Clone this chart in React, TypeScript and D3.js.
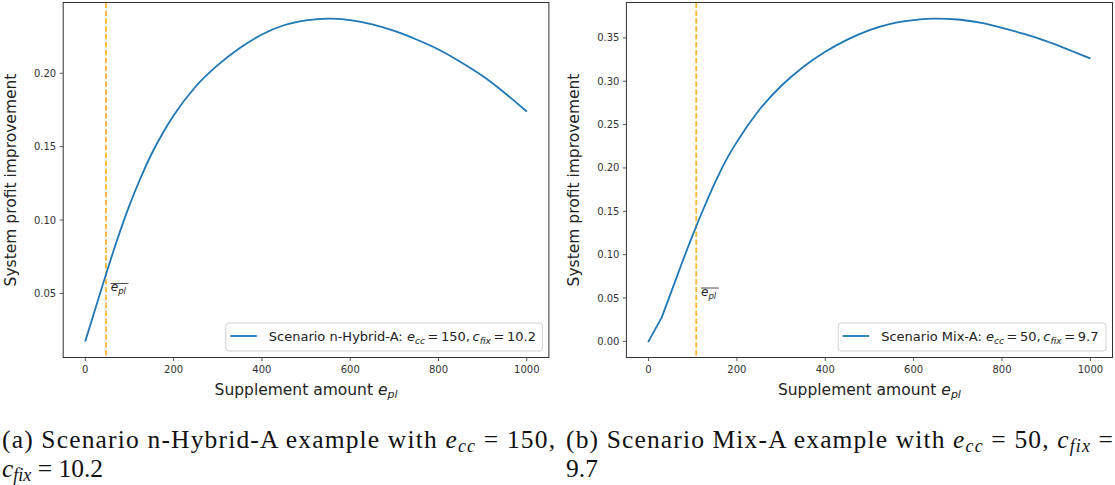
import React from 'react';
import * as d3 from 'd3';

// ---------- data ----------
const X_TICKS = [0, 200, 400, 600, 800, 1000];

const HYBRID_X = [0, 25, 50, 75, 100, 125, 150, 175, 200, 250, 300, 350, 400, 450, 500, 550, 600, 650, 700, 750, 800, 850, 900, 950, 1000];
const HYBRID_Y = [0.0174, 0.0418, 0.066, 0.089, 0.11, 0.1285, 0.145, 0.159, 0.1712, 0.191, 0.2055, 0.2172, 0.2264, 0.2327, 0.236, 0.2372, 0.2362, 0.2333, 0.2288, 0.223, 0.2162, 0.2077, 0.1981, 0.1866, 0.1739];
const HYBRID_Y_TICKS = [0.05, 0.1, 0.15, 0.2];
const HYBRID_THRESHOLD = [47];
const HYBRID_KINK = 0; // index of the last point drawn as a straight segment
const HYBRID_LABEL = { prefix: 'Scenario n-Hybrid-A: ', ecc: '150', cfix: '10.2' };

const MIX_X = [0, 30, 50, 75, 100, 125, 150, 175, 200, 250, 300, 350, 400, 450, 500, 550, 600, 650, 700, 750, 800, 850, 900, 950, 1000];
const MIX_Y = [0.0, 0.0276, 0.055, 0.0895, 0.1225, 0.1535, 0.1825, 0.2085, 0.23, 0.2665, 0.2945, 0.3165, 0.334, 0.348, 0.359, 0.3665, 0.3705, 0.3722, 0.3712, 0.3675, 0.3616, 0.3545, 0.3462, 0.3365, 0.3262];
const MIX_Y_TICKS = [0, 0.05, 0.1, 0.15, 0.2, 0.25, 0.3, 0.35];
const MIX_THRESHOLD = [108];
const MIX_KINK = 1;
const MIX_LABEL = { prefix: 'Scenario Mix-A: ', ecc: '50', cfix: '9.7' };

const X_LABEL = 'Supplement amount ';
const Y_LABEL = 'System profit improvement';

// ---------- styles ----------
const SANS = 'DejaVu Sans';
const SERIF = "'Liberation Serif', 'Times New Roman', serif";
const BLUE = '#1f77b4';
const ORANGE = '#ffa500';
const TOP = 2.5;
const BOTTOM = 357.5;
const THIN = '\u2009';

type PanelProps = {
  xs: number[];
  ys: number[];
  yTicks: number[];
  threshold: number[];
  kink: number;
  x0: number;
  x1: number;
  label: { prefix: string; ecc: string; cfix: string };
  legendW: number;
};

function Panel({ xs, ys, yTicks, threshold, kink, x0, x1, label, legendW }: PanelProps) {
  const [xmin, xmax] = d3.extent(xs) as [number, number];
  const xpad = (xmax - xmin) * 0.05;
  const x = d3.scaleLinear().domain([xmin - xpad, xmax + xpad]).range([x0, x1]);
  const [ymin, ymax] = d3.extent(ys) as [number, number];
  const ypad = (ymax - ymin) * 0.05;
  const y = d3.scaleLinear().domain([ymin - ypad, ymax + ypad]).range([BOTTOM, TOP]);
  const pts = xs.map((v, i) => [v, ys[i]] as [number, number]);
  const straight = d3
    .line<[number, number]>()
    .x((d) => x(d[0]))
    .y((d) => y(d[1]))
    .curve(d3.curveLinear);
  const smooth = d3
    .line<[number, number]>()
    .x((d) => x(d[0]))
    .y((d) => y(d[1]))
    .curve(d3.curveMonotoneX);
  const fmt = d3.format('.2f');
  const lh = 28;
  const bx = x1 - 6.5 - legendW;
  const by = BOTTOM - 6.5 - lh;
  const cx = (x0 + x1) / 2;
  const cy = (TOP + BOTTOM) / 2;
  const yLabelX = x0 - 47;

  return (
    <g>
      {threshold.map((t, i) => (
        <g key={i}>
          <line
            x1={x(t)}
            x2={x(t)}
            y1={TOP}
            y2={BOTTOM}
            stroke={ORANGE}
            strokeOpacity={0.8}
            strokeWidth={1.8}
            strokeDasharray="5.5,2.4"
          />
          <text
            x={x(t) + 4.8}
            y={y(0.05) - 2}
            fontFamily={SANS}
            fontSize={12}
            fill="#222"
            style={{ whiteSpace: 'pre' }}
          >
            <tspan fontStyle="italic">e</tspan>
            <tspan fontStyle="italic" fontSize={8.5} dy={3}>
              pl
            </tspan>
          </text>
          <line
            x1={x(t) + 4.8}
            x2={x(t) + 22.5}
            y1={y(0.05) - 10}
            y2={y(0.05) - 10}
            stroke="#222"
            strokeWidth={0.8}
          />
        </g>
      ))}
      {kink > 0 && (
        <path
          d={straight(pts.slice(0, kink + 1)) || ''}
          fill="none"
          stroke={BLUE}
          strokeWidth={1.8}
          strokeLinejoin="round"
          strokeLinecap="round"
        />
      )}
      <path
        d={smooth(pts.slice(kink)) || ''}
        fill="none"
        stroke={BLUE}
        strokeWidth={1.8}
        strokeLinejoin="round"
      />
      <rect x={x0} y={TOP} width={x1 - x0} height={BOTTOM - TOP} fill="none" stroke="#333" strokeWidth={1} />
      {X_TICKS.map((t) => (
        <g key={t}>
          <line x1={x(t)} x2={x(t)} y1={BOTTOM} y2={BOTTOM + 3.5} stroke="#333" strokeWidth={0.8} />
          <text x={x(t)} y={BOTTOM + 15} textAnchor="middle" fontFamily={SANS} fontSize={10} fill="#333">
            {t}
          </text>
        </g>
      ))}
      {yTicks.map((t) => (
        <g key={t}>
          <line x1={x0 - 3.5} x2={x0} y1={y(t)} y2={y(t)} stroke="#333" strokeWidth={0.8} />
          <text
            x={x0 - 7}
            y={y(t)}
            dy="0.35em"
            textAnchor="end"
            fontFamily={SANS}
            fontSize={10}
            fill="#333"
          >
            {fmt(t)}
          </text>
        </g>
      ))}
      <text x={cx} y={395} textAnchor="middle" fontFamily={SANS} fontSize={15.5} fill="#222" style={{ whiteSpace: 'pre' }}>
        <tspan>{X_LABEL}</tspan>
        <tspan fontStyle="italic">e</tspan>
        <tspan fontStyle="italic" fontSize={11} dy={3}>
          pl
        </tspan>
      </text>
      <text
        transform={`translate(${yLabelX},${cy}) rotate(-90)`}
        textAnchor="middle"
        fontFamily={SANS}
        fontSize={15.5}
        fill="#222"
      >
        {Y_LABEL}
      </text>
      <rect
        x={bx}
        y={by}
        width={legendW}
        height={lh}
        rx={3}
        fill="white"
        fillOpacity={0.8}
        stroke="#d0d0d0"
        strokeWidth={1}
      />
      <line x1={bx + 4.5} x2={bx + 31} y1={by + 13} y2={by + 13} stroke={BLUE} strokeWidth={1.8} />
      <text x={bx + 43} y={by + 18} fontFamily={SANS} fontSize={13} fill="#222" style={{ whiteSpace: 'pre' }}>
        <tspan>{label.prefix}</tspan>
        <tspan fontStyle="italic">e</tspan>
        <tspan fontStyle="italic" fontSize={9.1} dy={2.5}>
          cc
        </tspan>
        <tspan dy={-2.5}>{THIN + '=' + THIN + label.ecc + ',' + THIN}</tspan>
        <tspan fontStyle="italic">c</tspan>
        <tspan fontStyle="italic" fontSize={9.1} dy={2.5}>
          fix
        </tspan>
        <tspan dy={-2.5}>{THIN + '=' + THIN + label.cfix}</tspan>
      </text>
    </g>
  );
}

function Caption() {
  const fs = 25.5;
  const sub = 18;
  const y1 = 448;
  const y2 = 477;
  return (
    <g fontFamily={SERIF} fontSize={fs} fill="#111" style={{ whiteSpace: 'pre' }}>
      <text x={2} y={y1} textLength={553} lengthAdjust="spacing">
        <tspan>(a) Scenario n-Hybrid-A example with </tspan>
        <tspan fontStyle="italic">e</tspan>
        <tspan fontStyle="italic" fontSize={sub} dy={4}>
          cc
        </tspan>
        <tspan dy={-4}> = 150,</tspan>
      </text>
      <text x={2} y={y2}>
        <tspan fontStyle="italic">c</tspan>
        <tspan fontStyle="italic" fontSize={sub} dy={4}>
          fix
        </tspan>
        <tspan dy={-4}> = 10.2</tspan>
      </text>
      <text x={566} y={y1} textLength={547} lengthAdjust="spacing">
        <tspan>(b) Scenario Mix-A example with </tspan>
        <tspan fontStyle="italic">e</tspan>
        <tspan fontStyle="italic" fontSize={sub} dy={4}>
          cc
        </tspan>
        <tspan dy={-4}> = 50, </tspan>
        <tspan fontStyle="italic">c</tspan>
        <tspan fontStyle="italic" fontSize={sub} dy={4}>
          fix
        </tspan>
        <tspan dy={-4}> =</tspan>
      </text>
      <text x={566} y={y2}>
        9.7
      </text>
    </g>
  );
}

export default function App() {
  return (
    <svg
      width={1115}
      height={485}
      viewBox="0 0 1115 485"
      style={{ position: 'absolute', left: 0, top: 0, background: 'white' }}
    >
      <rect width={1115} height={485} fill="white" />
      <Panel
        xs={HYBRID_X}
        ys={HYBRID_Y}
        yTicks={HYBRID_Y_TICKS}
        threshold={HYBRID_THRESHOLD}
        kink={HYBRID_KINK}
        x0={63.2}
        x1={548.9}
        label={HYBRID_LABEL}
        legendW={316.6}
      />
      <Panel
        xs={MIX_X}
        ys={MIX_Y}
        yTicks={MIX_Y_TICKS}
        threshold={MIX_THRESHOLD}
        kink={MIX_KINK}
        x0={626.4}
        x1={1112.5}
        label={MIX_LABEL}
        legendW={267.8}
      />
      <Caption />
    </svg>
  );
}
